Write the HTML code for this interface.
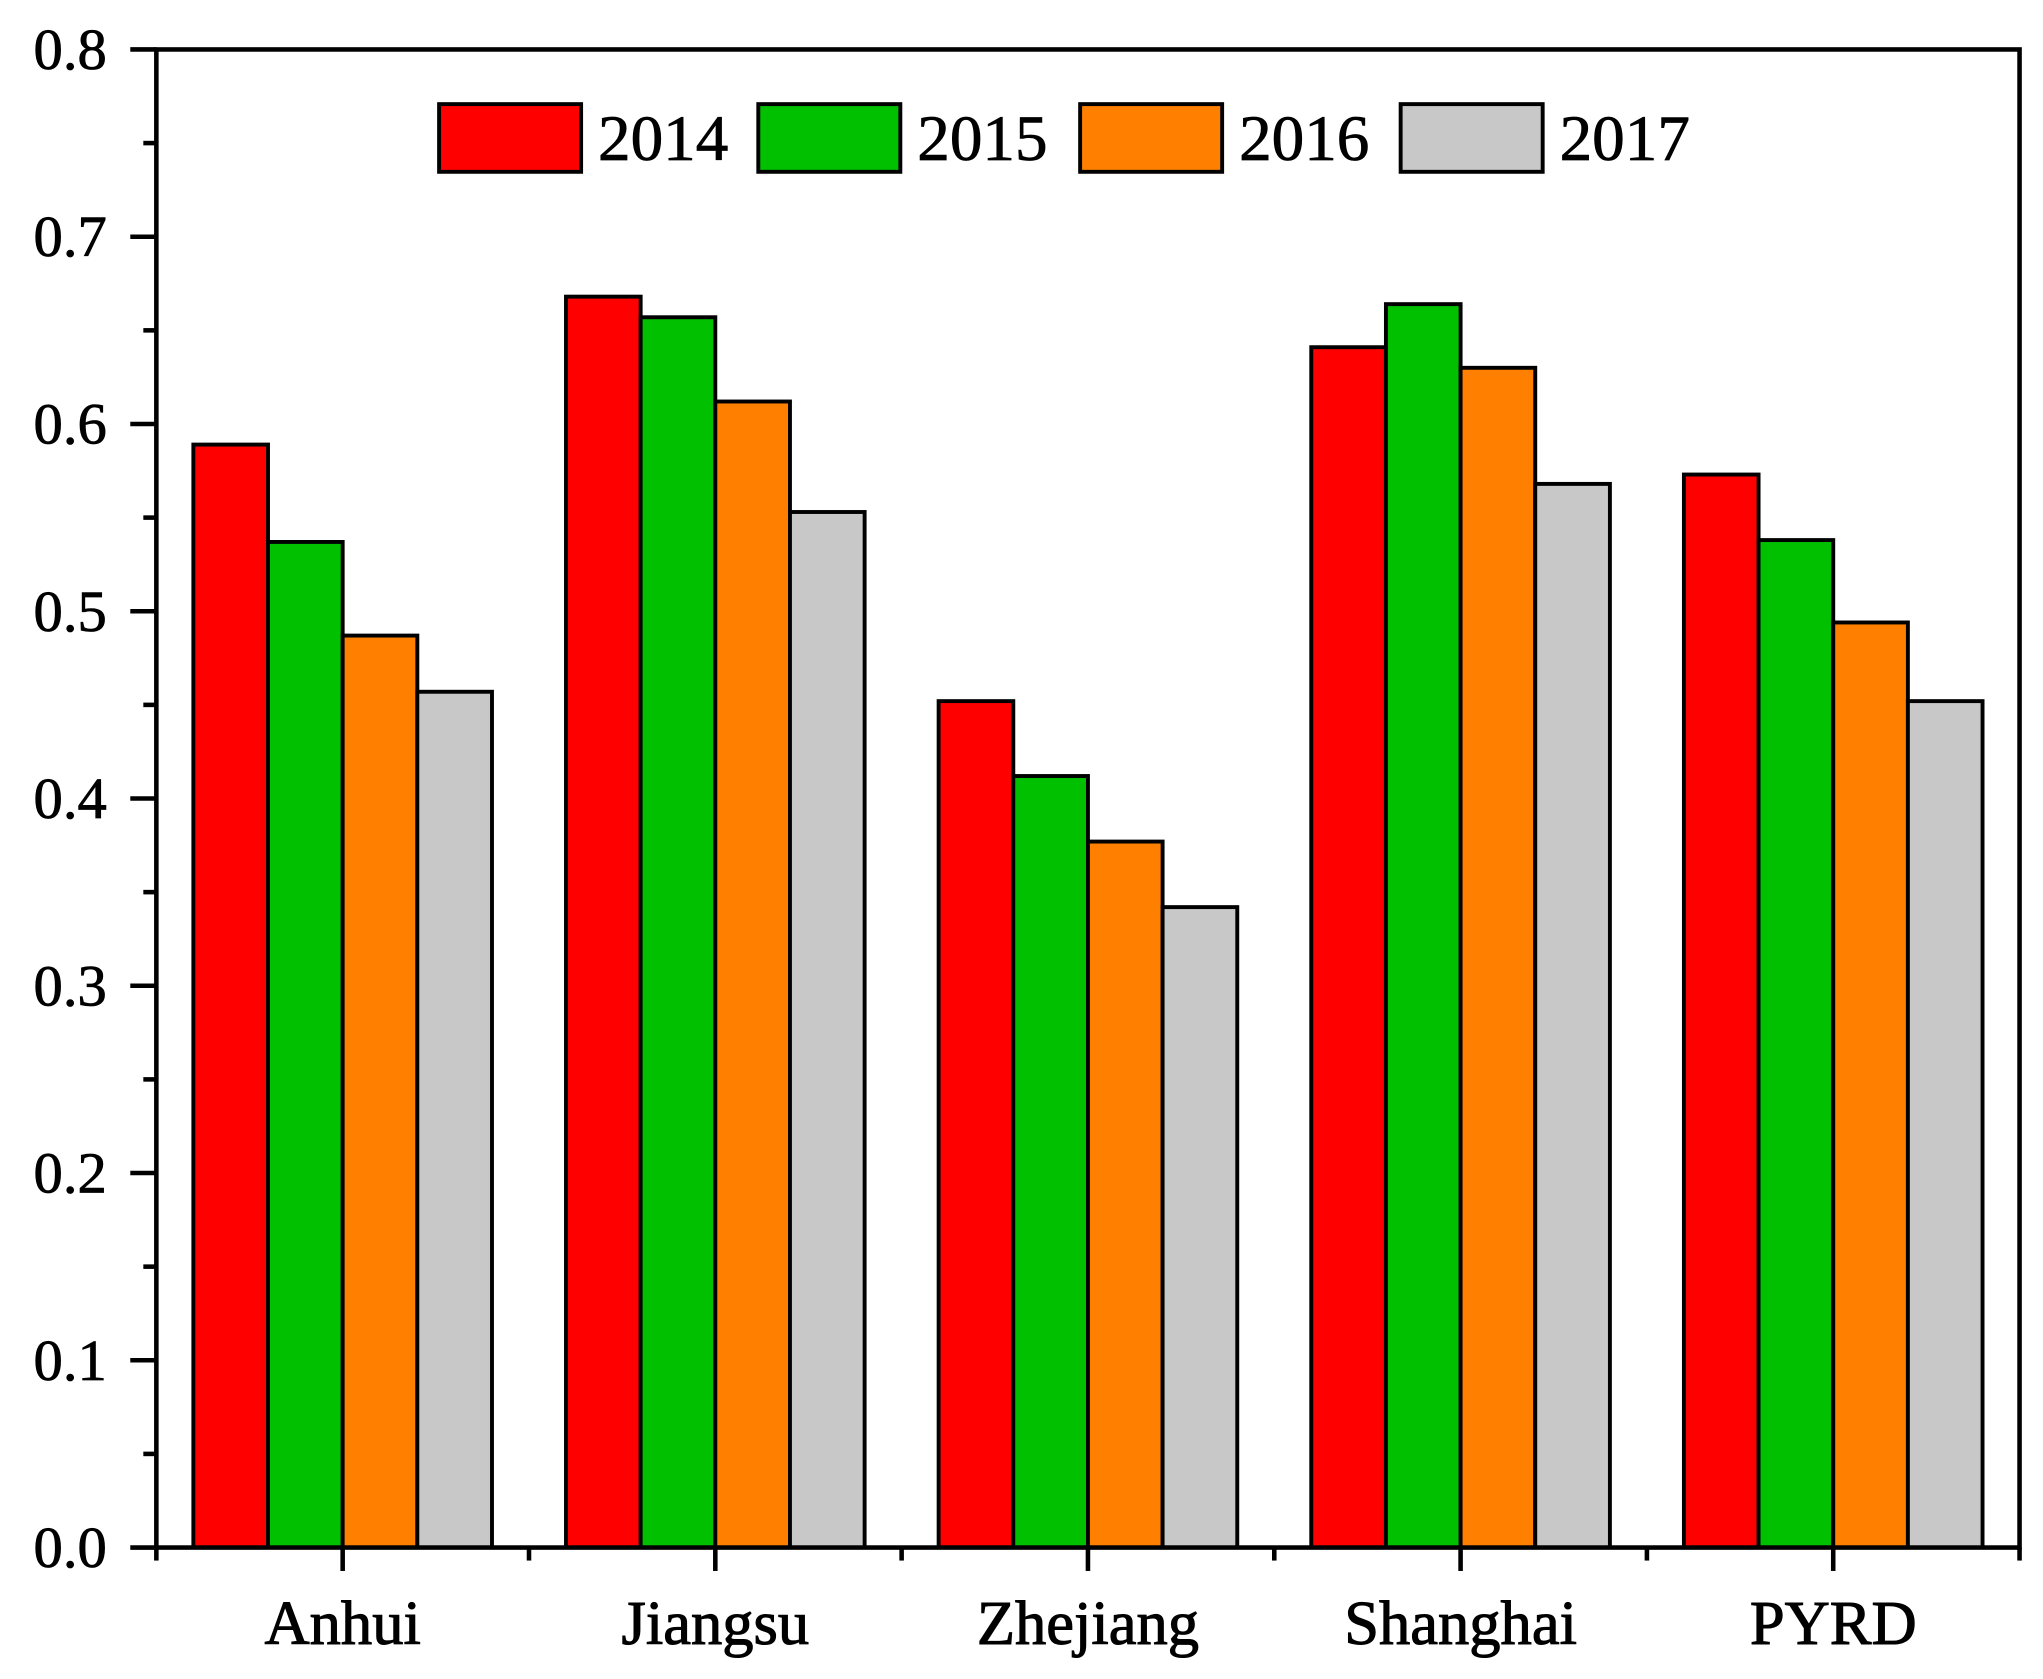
<!DOCTYPE html>
<html><head><meta charset="utf-8"><style>
html,body{margin:0;padding:0;background:#fff;}
svg{display:block;}
text{font-family:"Liberation Serif",serif;fill:#000;}
</style></head><body>
<svg id="chart" width="2043" height="1679" viewBox="0 0 1568 1290" preserveAspectRatio="none" xmlns="http://www.w3.org/2000/svg">
<g id="bars"></g>
<g id="axes"></g>
<g id="legend"></g>
</svg>
<script>
const categories = ["Anhui","Jiangsu","Zhejiang","Shanghai","PYRD"];
const seriesNames = ["2014","2015","2016","2017"];
const v2014 = [0.589,0.668,0.452,0.641,0.573];
const v2015 = [0.537,0.657,0.412,0.664,0.538];
const v2016 = [0.487,0.612,0.377,0.630,0.494];
const v2017 = [0.457,0.553,0.342,0.568,0.452];
const yTicks = ["0.0","0.1","0.2","0.3","0.4","0.5","0.6","0.7","0.8"];

const series=[v2014,v2015,v2016,v2017];
const colors=["#ff0000","#00c000","#ff8000","#c8c8c8"];
const NS="http://www.w3.org/2000/svg";
const L=120,R=1550,T=38,B=1189,yMax=0.8;
const cellW=(R-L)/categories.length;
const y=v=>B-(v/yMax)*(B-T);
const xc=i=>L+cellW*(i+0.5);
const barW=57.3;
function mk(tag,attrs,parent,txt){const e=document.createElementNS(NS,tag);for(const k in attrs)e.setAttribute(k,attrs[k]);if(txt!==undefined)e.textContent=txt;parent.appendChild(e);return e;}
const gb=document.getElementById('bars'),ga=document.getElementById('axes'),gl=document.getElementById('legend');
categories.forEach((c,i)=>{
  series.forEach((s,j)=>{
    const x0=xc(i)-2*barW+j*barW;
    const r=mk('rect',{x:x0,y:y(s[i]),width:barW,height:B-y(s[i]),fill:colors[j],stroke:'#000','stroke-width':3},gb);
    
    
  });
  const t=mk('text',{x:xc(i),y:1263,'font-size':48,'text-anchor':'middle','stroke':'#000','stroke-width':0.8},ga,c);
  
  
  mk('line',{x1:xc(i),x2:xc(i),y1:B,y2:B+18,stroke:'#000','stroke-width':3.5},ga);
});
for(let k=0;k<=categories.length;k++){mk('line',{x1:L+k*cellW,x2:L+k*cellW,y1:B,y2:B+10,stroke:'#000','stroke-width':3.5},ga);}
yTicks.forEach((lab,k)=>{
  const v=k*0.1,yy=y(v);
  mk('line',{x1:L-20,x2:L,y1:yy,y2:yy,stroke:'#000','stroke-width':3.5},ga);
  if(k<yTicks.length-1){const ym=y(v+0.05);mk('line',{x1:L-10,x2:L,y1:ym,y2:ym,stroke:'#000','stroke-width':3.5},ga);}
  const t=mk('text',{x:82,y:yy+15,'font-size':45,'text-anchor':'end','stroke':'#000','stroke-width':0.6},ga,lab);
  
  
});
const frame=mk('rect',{x:L,y:T,width:R-L,height:B-T,fill:'none',stroke:'#000','stroke-width':3.5},ga);


const lx=[337,582,829,1075];
seriesNames.forEach((n,j)=>{
  const r=mk('rect',{x:lx[j],y:80,width:109,height:52,fill:colors[j],stroke:'#000','stroke-width':3},gl);
  
  
  const t=mk('text',{x:lx[j]+122,y:123,'font-size':50,'stroke':'#000','stroke-width':0.6},gl,n);
  
  
});
</script>
</body></html>
